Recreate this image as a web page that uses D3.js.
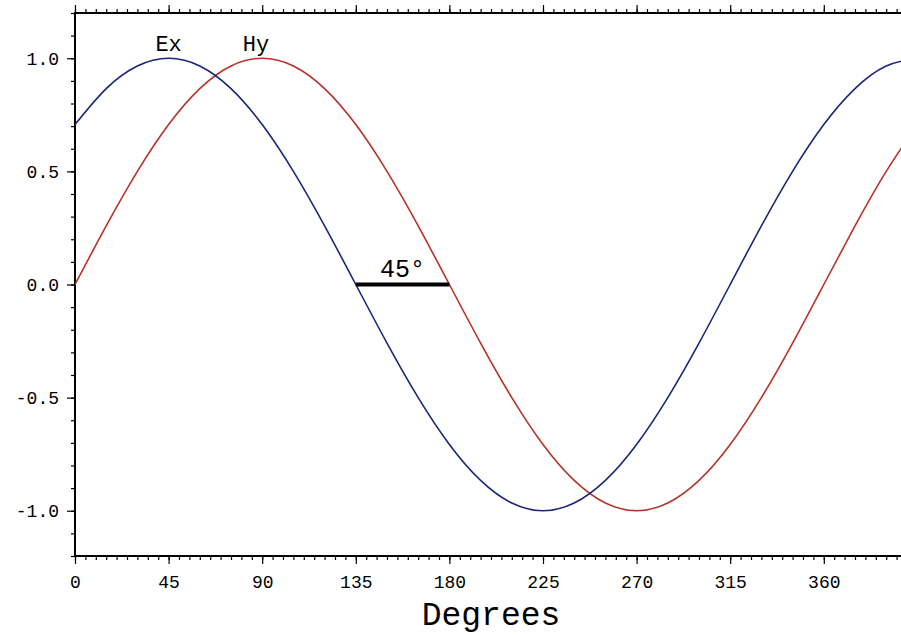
<!DOCTYPE html>
<html><head><meta charset="utf-8">
<script src="https://cdn.jsdelivr.net/npm/d3@7"></script>
<style>
html,body{margin:0;padding:0;background:#fff;}
svg{display:block;}
text{font-family:"Liberation Mono","DejaVu Sans Mono",monospace;fill:#000;}
</style></head>
<body>
<svg id="c" width="901" height="635"></svg>
<script>
// Data
const degrees = [0,15,30,45,60,75,90,105,120,135,150,165,180,195,210,225,240,255,270,285,300,315,330,345,360,375,390,405];
const exValues = [0.707,0.866,0.966,1,0.966,0.866,0.707,0.5,0.259,0,-0.259,-0.5,-0.707,-0.866,-0.966,-1,-0.966,-0.866,-0.707,-0.5,-0.259,0,0.259,0.5,0.707,0.866,0.966,1];
const hyValues = [0,0.259,0.5,0.707,0.866,0.966,1,0.966,0.866,0.707,0.5,0.259,0,-0.259,-0.5,-0.707,-0.866,-0.966,-1,-0.966,-0.866,-0.707,-0.5,-0.259,0,0.259,0.5,0.707];
const xTicks = [0,45,90,135,180,225,270,315,360];
const yTicks = [-1.0,-0.5,0.0,0.5,1.0];
const seriesLabels = [{name:"Ex", deg:45, val:1}, {name:"Hy", deg:87, val:1}];
const phaseBar = {from:135, to:180, val:0, label:"45°"};

const svg = d3.select("#c");
const L = 75, T = 13, B = 556, R = 907;
const x = d3.scaleLinear().domain([0,400]).range([L,R]);
const y = d3.scaleLinear().domain([-1.2,1.2]).range([B,T]);

svg.append("defs").append("clipPath").attr("id","clip")
  .append("rect").attr("x",L).attr("y",T).attr("width",R-L).attr("height",B-T);

const minorX = d3.range(0,401,5);
const minorY = d3.range(-12,13).map(d=>d/10);

function styleAxis(g){ g.select(".domain").remove(); g.selectAll("line").attr("stroke","#000").attr("stroke-width",1.2); }

// bottom
svg.append("g").attr("transform",`translate(0,${B})`)
  .call(d3.axisBottom(x).tickValues(minorX).tickSize(4).tickFormat("")).call(styleAxis);
svg.append("g").attr("transform",`translate(0,${B})`)
  .call(d3.axisBottom(x).tickValues(xTicks).tickSize(8).tickPadding(11).tickFormat(d3.format("d")))
  .call(styleAxis)
  .call(g=>g.selectAll("text").attr("font-size",18));
// top
svg.append("g").attr("transform",`translate(0,${T})`)
  .call(d3.axisTop(x).tickValues(minorX).tickSize(4).tickFormat("")).call(styleAxis);
svg.append("g").attr("transform",`translate(0,${T})`)
  .call(d3.axisTop(x).tickValues(xTicks).tickSize(8).tickFormat("")).call(styleAxis);
// left
svg.append("g").attr("transform",`translate(${L},0)`)
  .call(d3.axisLeft(y).tickValues(minorY).tickSize(4).tickFormat("")).call(styleAxis);
svg.append("g").attr("transform",`translate(${L},0)`)
  .call(d3.axisLeft(y).tickValues(yTicks).tickSize(8).tickPadding(8).tickFormat(d3.format(".1f")))
  .call(styleAxis)
  .call(g=>g.selectAll("text").attr("font-size",18).text(d=>d3.format(".1f")(d).replace("−","-")));

// frame
svg.append("path").attr("d",`M${R},${T}H${L}V${B}H${R}`).attr("fill","none").attr("stroke","#000").attr("stroke-width",2);

// curves
const line = d3.line().x((d,i)=>x(degrees[i])).y(d=>y(d)).curve(d3.curveNatural);
const plot = svg.append("g").attr("clip-path","url(#clip)");
plot.append("path").attr("d",line(hyValues)).attr("fill","none").attr("stroke","#b5332b").attr("stroke-width",1.6);
plot.append("path").attr("d",line(exValues)).attr("fill","none").attr("stroke","#1b2679").attr("stroke-width",1.6);

// series labels
svg.selectAll("text.sl").data(seriesLabels).join("text").attr("class","sl")
  .attr("x",d=>x(d.deg)).attr("y",d=>y(d.val)-7).attr("text-anchor","middle").attr("font-size",22).text(d=>d.name);

// phase bar
svg.append("line").attr("x1",x(phaseBar.from)).attr("x2",x(phaseBar.to)).attr("y1",y(phaseBar.val)).attr("y2",y(phaseBar.val))
  .attr("stroke","#000").attr("stroke-width",4);
svg.append("text").attr("x",(x(phaseBar.from)+x(phaseBar.to))/2).attr("y",y(phaseBar.val)-8)
  .attr("text-anchor","middle").attr("font-size",25).text(phaseBar.label);

// axis title
svg.append("text").attr("x",x(200)).attr("y",625).attr("text-anchor","middle").attr("font-size",33).text("Degrees");
</script>
</body></html>
